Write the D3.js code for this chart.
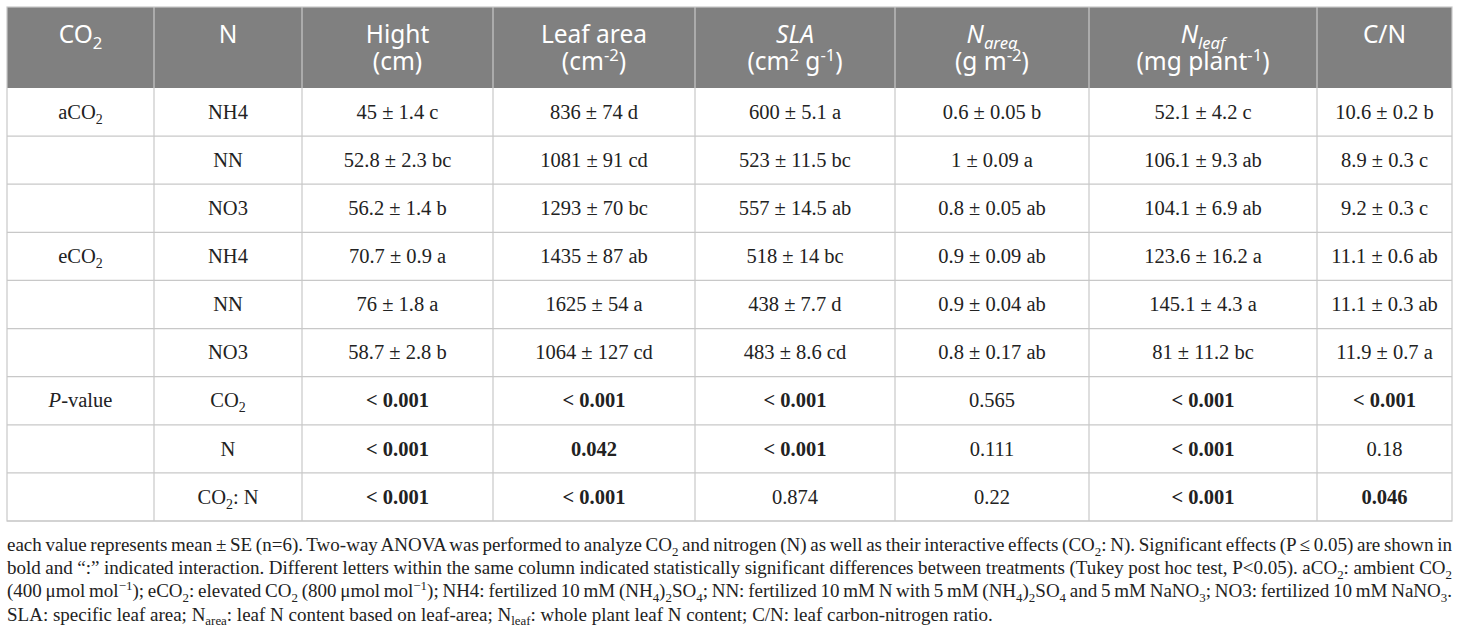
<!DOCTYPE html>
<html>
<head>
<meta charset="utf-8">
<script src="https://cdn.jsdelivr.net/npm/d3@7"></script>
<style>
  body { margin: 0; background: #fff; }
  svg text { white-space: pre; }
</style>
</head>
<body>
<svg id="chart" width="1460" height="634"></svg>
<script>
// ---- data (rich text: _{sub} ^{sup} *italic*) ----
var headerTop = ['CO_{2}', 'N', 'Hight', 'Leaf area', '*SLA*', '*N*_{*area*}', '*N*_{*leaf*}', 'C/N'];
var headerBottom = ['', '', '(cm)', '(cm^{-2})', '(cm^{2} g^{-1})', '(g m^{-2})', '(mg plant^{-1})', ''];

var co2Labels = ['aCO_{2}', '', '', 'eCO_{2}', '', '', '*P*-value', '', ''];
var nLabels = ['NH4', 'NN', 'NO3', 'NH4', 'NN', 'NO3', 'CO_{2}', 'N', 'CO_{2}: N'];

var hight = ['45 ± 1.4 c', '52.8 ± 2.3 bc', '56.2 ± 1.4 b', '70.7 ± 0.9 a', '76 ± 1.8 a', '58.7 ± 2.8 b', '< 0.001', '< 0.001', '< 0.001'];
var leafArea = ['836 ± 74 d', '1081 ± 91 cd', '1293 ± 70 bc', '1435 ± 87 ab', '1625 ± 54 a', '1064 ± 127 cd', '< 0.001', '0.042', '< 0.001'];
var sla = ['600 ± 5.1 a', '523 ± 11.5 bc', '557 ± 14.5 ab', '518 ± 14 bc', '438 ± 7.7 d', '483 ± 8.6 cd', '< 0.001', '< 0.001', '0.874'];
var nArea = ['0.6 ± 0.05 b', '1 ± 0.09 a', '0.8 ± 0.05 ab', '0.9 ± 0.09 ab', '0.9 ± 0.04 ab', '0.8 ± 0.17 ab', '0.565', '0.111', '0.22'];
var nLeaf = ['52.1 ± 4.2 c', '106.1 ± 9.3 ab', '104.1 ± 6.9 ab', '123.6 ± 16.2 a', '145.1 ± 4.3 a', '81 ± 11.2 bc', '< 0.001', '< 0.001', '< 0.001'];
var cn = ['10.6 ± 0.2 b', '8.9 ± 0.3 c', '9.2 ± 0.3 c', '11.1 ± 0.6 ab', '11.1 ± 0.3 ab', '11.9 ± 0.7 a', '< 0.001', '0.18', '0.046'];

var footnote = [
  'each value represents mean ± SE (n=6). Two-way ANOVA was performed to analyze CO_{2} and nitrogen (N) as well as their interactive effects (CO_{2}: N). Significant effects (P ≤ 0.05) are shown in',
  'bold and “:” indicated interaction. Different letters within the same column indicated statistically significant differences between treatments (Tukey post hoc test, P<0.05). aCO_{2}: ambient CO_{2}',
  '(400 μmol mol^{−1}); eCO_{2}: elevated CO_{2} (800 μmol mol^{−1}); NH4: fertilized 10 mM (NH_{4})_{2}SO_{4}; NN: fertilized 10 mM N with 5 mM (NH_{4})_{2}SO_{4} and 5 mM NaNO_{3}; NO3: fertilized 10 mM NaNO_{3}.',
  'SLA: specific leaf area; N_{area}: leaf N content based on leaf-area; N_{leaf}: whole plant leaf N content; C/N: leaf carbon-nitrogen ratio.'
];

var pRows = 3; // last rows hold p-values

// ---- layout ----
var tableLeft = 7, tableTop = 7, headerH = 81, tableBottom = 521;
var colWidths = [147, 148, 191, 202, 200, 194, 228, 135];
var headerFont = 'Noto Sans, Open Sans, sans-serif';
var bodyFont = 'Liberation Serif, Times New Roman, serif';
var headerSize = 24.5, bodySize = 20.5, noteSize = 19;

var columns = [co2Labels, nLabels, hight, leafArea, sla, nArea, nLeaf, cn];
var edges = [tableLeft].concat(Array.from(d3.cumsum(colWidths), function(v) { return tableLeft + v; }));
var tableRight = edges[edges.length - 1];

var xScale = d3.scaleOrdinal().domain(d3.range(columns.length)).range(edges.slice(0, -1));
var wScale = d3.scaleOrdinal().domain(d3.range(columns.length)).range(colWidths);
var yScale = d3.scaleBand().domain(d3.range(nLabels.length)).range([tableTop + headerH, tableBottom]);

var svg = d3.select('#chart');

function parseRich(s) {
  var segs = [], buf = '', it = false, shift = null, i = 0;
  function flush() {
    if (buf) segs.push({ t: buf, it: it, shift: shift });
    buf = '';
  }
  while (i < s.length) {
    var c = s[i];
    if ((c == '_' || c == '^') && s[i + 1] == '{') { flush(); shift = c == '_' ? 'sub' : 'sup'; i += 2; continue; }
    if (c == '}' && shift) { flush(); shift = null; i++; continue; }
    if (c == '*') { flush(); it = !it; i++; continue; }
    buf += c;
    i++;
  }
  flush();
  return segs;
}

function addRich(textSel, s, size) {
  var offset = 0;
  parseRich(s).forEach(function(sg) {
    var target = sg.shift == 'sub' ? size * 0.24 : sg.shift == 'sup' ? -size * 0.38 : 0;
    textSel.append('tspan')
      .attr('dy', target - offset)
      .attr('font-size', sg.shift ? size * 0.68 : size)
      .attr('font-style', sg.it ? 'italic' : null)
      .text(sg.t);
    offset = target;
  });
}

function isSignificant(v) {
  return v.indexOf('<') == 0 || (+v <= 0.05);
}

// header background
svg.append('rect')
  .attr('x', tableLeft).attr('y', tableTop)
  .attr('width', tableRight - tableLeft).attr('height', headerH)
  .attr('fill', '#808080');

// header text
var headerGroup = svg.append('g')
  .attr('font-family', headerFont)
  .attr('fill', '#fff')
  .attr('text-anchor', 'middle');
headerTop.forEach(function(label, i) {
  var cx = xScale(i) + wScale(i) / 2;
  addRich(headerGroup.append('text').attr('x', cx).attr('y', tableTop + 36), label, headerSize);
  if (headerBottom[i]) {
    addRich(headerGroup.append('text').attr('x', cx).attr('y', tableTop + 63), headerBottom[i], headerSize);
  }
});

// body cells
var bodyGroup = svg.append('g')
  .attr('font-family', bodyFont)
  .attr('fill', '#222')
  .attr('text-anchor', 'middle');
columns.forEach(function(col, i) {
  col.forEach(function(val, r) {
    if (!val) return;
    var t = bodyGroup.append('text')
      .attr('x', xScale(i) + wScale(i) / 2)
      .attr('y', yScale(r) + yScale.bandwidth() / 2 + bodySize * 0.33);
    if (i >= 2 && r >= nLabels.length - pRows && isSignificant(val)) t.attr('font-weight', 'bold');
    addRich(t, val, bodySize);
  });
});

// grid lines
var grid = svg.append('g')
  .attr('stroke', '#c8c8c8')
  .attr('stroke-width', 1.2)
  .attr('fill', 'none');
grid.selectAll('.hline')
  .data(d3.range(nLabels.length))
  .enter().append('line')
    .attr('class', 'hline')
    .attr('x1', tableLeft).attr('x2', tableRight)
    .attr('y1', function(r) { return yScale(r) + yScale.bandwidth(); })
    .attr('y2', function(r) { return yScale(r) + yScale.bandwidth(); });
grid.selectAll('.vline')
  .data(d3.range(1, columns.length))
  .enter().append('line')
    .attr('class', 'vline')
    .attr('x1', function(i) { return xScale(i); })
    .attr('x2', function(i) { return xScale(i); })
    .attr('y1', tableTop).attr('y2', tableBottom);
grid.append('rect')
  .attr('x', tableLeft).attr('y', tableTop)
  .attr('width', tableRight - tableLeft).attr('height', tableBottom - tableTop);

// footnote, justified except last line
var noteGroup = svg.append('g')
  .attr('font-family', bodyFont)
  .attr('fill', '#222');
footnote.forEach(function(line, k) {
  var t = noteGroup.append('text')
    .attr('x', tableLeft)
    .attr('y', 551 + k * 23.2);
  addRich(t, line, noteSize);
  if (k < footnote.length - 1) {
    var natural = t.node().getComputedTextLength();
    var spaces = (t.text().match(/ /g) || []).length;
    t.attr('word-spacing', (tableRight - tableLeft - natural) / spaces);
  }
});
</script>
</body>
</html>
